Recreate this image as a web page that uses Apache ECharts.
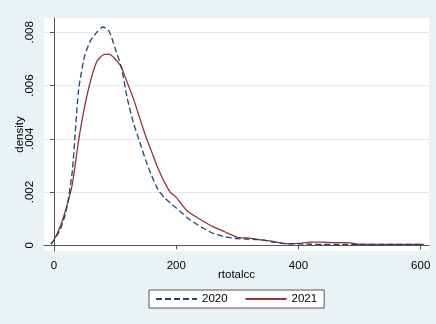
<!DOCTYPE html>
<html>
<head>
<meta charset="utf-8">
<script src="https://cdn.jsdelivr.net/npm/echarts@6/dist/echarts.min.js"></script>
<style>
  html, body { margin: 0; padding: 0; background: #eaf2f3; }
  #chart { width: 436px; height: 324px; }
</style>
</head>
<body>
<div id="chart"></div>
<script>
// rtotalcc grid (x) and kernel density estimates per year
var xs = [-5, 0, 10, 20, 30, 40, 50, 60, 70, 80, 90, 100, 110, 120, 130, 140, 150, 160, 170, 180,
          190, 200, 210, 220, 240, 260, 280, 300, 320, 340, 360, 380, 400, 420, 440, 460, 480, 500,
          520, 540, 560, 580, 600, 605];
var d2020 = [0.00005, 0.0002, 0.00058, 0.0013, 0.0028, 0.0058, 0.0071, 0.0077, 0.0080, 0.0082,
             0.00805, 0.0074, 0.0067, 0.0055, 0.0046, 0.0039, 0.0032, 0.0026, 0.0021, 0.0018,
             0.0016, 0.0014, 0.0012, 0.0010, 0.0007, 0.00045, 0.00032, 0.00025, 0.00023, 0.0002,
             0.00012, 0.00006, 0.00005, 0.00004, 0.00003, 0.00003, 0.00003, 0.00003,
             0.00003, 0.00003, 0.00003, 0.00003, 0.00003, 0.00003];
var d2021 = [0.00005, 0.0002, 0.0007, 0.0014, 0.0023, 0.0039, 0.0052, 0.0062, 0.0069, 0.00715,
             0.00718, 0.0070, 0.0067, 0.0061, 0.0055, 0.0048, 0.0041, 0.0035, 0.0029, 0.0024,
             0.0020, 0.0018, 0.0015, 0.00125, 0.00096, 0.0007, 0.0005, 0.0003, 0.00027, 0.0002,
             0.00014, 0.00006, 0.00007, 0.00012, 0.00012, 0.0001, 0.0001, 0.00004,
             0.00003, 0.00003, 0.00003, 0.00003, 0.00003, 0.00003];
var years = ['2020', '2021'];
var xTicks = [0, 200, 400, 600];
var yTicks = [0, 0.002, 0.004, 0.006, 0.008];

function pairs(ys) {
  return xs.map(function (x, i) { return [x, ys[i]]; });
}

var chart = echarts.init(document.getElementById('chart'));
var font = 'Liberation Sans, Arial, sans-serif';
var axisCol = '#555';

var option = {
  backgroundColor: '#eaf2f3',
  animation: false,
  textStyle: { fontFamily: font },
  grid: {
    left: 44, right: 7, top: 18, bottom: 73,
    show: true, backgroundColor: '#ffffff', borderWidth: 0
  },
  legend: {
    left: 149, top: 290,
    padding: [3, 7, 3, 6],
    itemWidth: 41, itemHeight: 12, itemGap: 17,
    backgroundColor: '#ffffff',
    borderColor: '#555', borderWidth: 1, borderRadius: 0,
    itemStyle: { opacity: 0 },
    textStyle: { fontFamily: font, fontSize: 11.5, color: '#000' },
    data: years
  },
  xAxis: {
    type: 'value',
    min: -16.4, max: 613.6,
    name: 'rtotalcc', nameLocation: 'middle', nameGap: 18, nameMoveOverlap: false,
    nameTextStyle: { fontFamily: font, fontSize: 11.5, color: '#000' },
    axisLine: { show: true, lineStyle: { color: axisCol, width: 1 } },
    axisTick: { show: true, length: 4, customValues: xTicks, lineStyle: { color: axisCol } },
    axisLabel: { customValues: xTicks, margin: 9, fontSize: 11.5, color: '#000', fontFamily: font },
    splitLine: { show: false }
  },
  yAxis: {
    type: 'value',
    min: -0.000214, max: 0.008538,
    name: 'density', nameLocation: 'middle', nameGap: 18, nameRotate: 90, nameMoveOverlap: false,
    nameTextStyle: { fontFamily: font, fontSize: 11.5, color: '#000' },
    axisLine: { show: true, lineStyle: { color: axisCol, width: 1 } },
    axisTick: { show: true, length: 4, customValues: yTicks, lineStyle: { color: axisCol } },
    axisLabel: {
      customValues: yTicks, rotate: 90, margin: 8.5, fontSize: 11.5, color: '#000', fontFamily: font,
      formatter: function (v) {
        if (v === 0) return '0';
        return String(+v.toFixed(3)).replace(/^0/, '');
      }
    },
    splitLine: { show: true, lineStyle: { color: '#e3ebed', width: 1 } }
  },
  series: [
    {
      name: years[0], type: 'line', data: pairs(d2020),
      symbol: 'none', smooth: 0.2,
      lineStyle: { color: '#1a476f', width: 1.3, type: [6, 3] },
      itemStyle: { color: '#1a476f' },
      z: 3
    },
    {
      name: years[1], type: 'line', data: pairs(d2021),
      symbol: 'none', smooth: 0.2,
      lineStyle: { color: '#90353b', width: 1.3 },
      itemStyle: { color: '#90353b' },
      z: 2
    }
  ]
};
chart.setOption(option);
</script>
</body>
</html>
